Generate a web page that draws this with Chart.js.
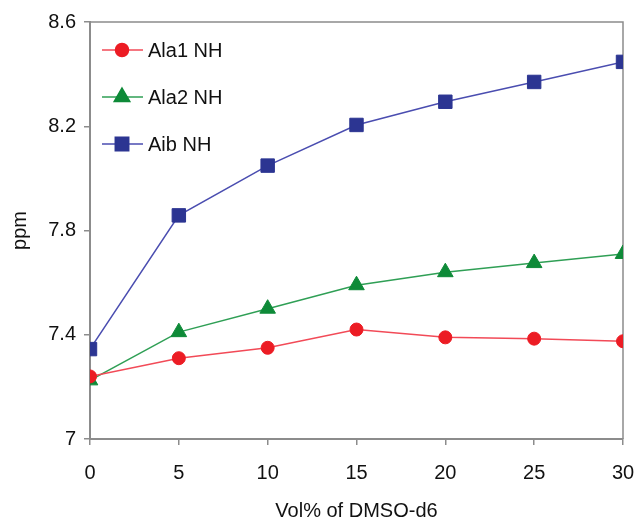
<!DOCTYPE html>
<html>
<head>
<meta charset="utf-8">
<script src="https://cdn.jsdelivr.net/npm/chart.js@4/dist/chart.umd.min.js"></script>
<style>
  html, body { margin: 0; padding: 0; background: #fff; }
  #wrap { width: 637px; height: 521px; }
</style>
</head>
<body>
<div id="wrap"><canvas id="c" width="637" height="521"></canvas></div>
<script>
const volPercent = [0, 5, 10, 15, 20, 25, 30];
const ala1NH = [7.24, 7.31, 7.35, 7.42, 7.39, 7.385, 7.375];
const ala2NH = [7.225, 7.41, 7.50, 7.59, 7.64, 7.675, 7.71];
const aibNH  = [7.345, 7.858, 8.049, 8.205, 8.294, 8.37, 8.447];
const seriesNames = ['Ala1 NH', 'Ala2 NH', 'Aib NH'];
const xTickValues = [0, 5, 10, 15, 20, 25, 30];
const yTickValues = [7, 7.4, 7.8, 8.2, 8.6];
const yTickLabels = ['7', '7.4', '7.8', '8.2', '8.6'];

const toXY = arr => arr.map((v, i) => ({ x: volPercent[i], y: v }));

const FONT = "'Liberation Sans', Arial, sans-serif";
const AXIS_GRAY = '#8c8c8c';

const frameAndLegend = {
  id: 'frameAndLegend',
  beforeDatasetsDraw(chart) {
    const { ctx, chartArea: a } = chart;
    ctx.save();
    ctx.strokeStyle = AXIS_GRAY;
    ctx.lineWidth = 1.5;
    ctx.beginPath();
    ctx.moveTo(a.left, a.top);
    ctx.lineTo(a.right, a.top);
    ctx.lineTo(a.right, a.bottom);
    ctx.stroke();
    ctx.restore();
  },
  afterDatasetsDraw(chart) {
    const { ctx, chartArea: a } = chart;
    ctx.save();
    const x0 = a.left + 12, x1 = a.left + 53, xm = a.left + 32, xt = a.left + 58;
    const rowY = [a.top + 28, a.top + 75, a.top + 122];
    chart.data.datasets.forEach((ds, i) => {
      const y = rowY[i];
      ctx.strokeStyle = ds.borderColor;
      ctx.lineWidth = ds.borderWidth;
      ctx.beginPath();
      ctx.moveTo(x0, y);
      ctx.lineTo(x1, y);
      ctx.stroke();
      ctx.fillStyle = ds.pointBackgroundColor;
      ctx.strokeStyle = ds.pointBorderColor;
      Chart.helpers.drawPoint(ctx, {
        pointStyle: ds.pointStyle,
        radius: ds.pointRadius,
        rotation: 0,
        borderWidth: 1
      }, xm, y);
      ctx.fillStyle = '#111';
      ctx.font = '20px ' + FONT;
      ctx.textBaseline = 'middle';
      ctx.textAlign = 'left';
      ctx.fillText(ds.label, xt, y + 1);
    });
    ctx.restore();
  }
};

new Chart(document.getElementById('c'), {
  type: 'line',
  data: {
    datasets: [
      {
        label: seriesNames[0],
        data: toXY(ala1NH),
        borderColor: '#f24a57',
        borderWidth: 1.5,
        pointStyle: 'circle',
        pointRadius: 6.5,
        pointBackgroundColor: '#ec1c24',
        pointBorderColor: '#ec1c24',
        pointBorderWidth: 1
      },
      {
        label: seriesNames[1],
        data: toXY(ala2NH),
        borderColor: '#2f9f55',
        borderWidth: 1.5,
        pointStyle: 'triangle',
        pointRadius: 9,
        pointBackgroundColor: '#0e8a38',
        pointBorderColor: '#0e8a38',
        pointBorderWidth: 1
      },
      {
        label: seriesNames[2],
        data: toXY(aibNH),
        borderColor: '#4a4db0',
        borderWidth: 1.5,
        pointStyle: 'rect',
        pointRadius: 9.5,
        pointBackgroundColor: '#2c3592',
        pointBorderColor: '#2c3592',
        pointBorderWidth: 1
      }
    ]
  },
  options: {
    responsive: false,
    animation: false,
    layout: { padding: { top: 22, right: 0, left: 0, bottom: 0 } },
    plugins: {
      legend: { display: false },
      tooltip: { enabled: false }
    },
    scales: {
      x: {
        type: 'linear',
        min: 0, max: 30,
        afterBuildTicks: s => { s.ticks = xTickValues.map(v => ({ value: v })); },
        afterFit: s => { s.height = 82; s.paddingRight = 14; },
        grid: { drawOnChartArea: false, drawTicks: true, tickLength: 6, color: AXIS_GRAY, lineWidth: 1.5 },
        border: { color: AXIS_GRAY, width: 2 },
        ticks: { color: '#111', font: { family: FONT, size: 20 }, padding: 16, maxRotation: 0 },
        title: { display: true, text: 'Vol% of DMSO-d6', color: '#111', font: { family: FONT, size: 20, lineHeight: 1.0 }, padding: { top: 0, bottom: 0 } }
      },
      y: {
        type: 'linear',
        min: 7, max: 8.6,
        afterBuildTicks: s => { s.ticks = yTickValues.map(v => ({ value: v })); },
        afterFit: s => { s.width = 90; },
        grid: { drawOnChartArea: false, drawTicks: true, tickLength: 6, color: AXIS_GRAY, lineWidth: 1.5 },
        border: { color: AXIS_GRAY, width: 2 },
        ticks: {
          color: '#111', font: { family: FONT, size: 20 }, padding: 8,
          callback: v => { const i = yTickValues.findIndex(t => Math.abs(t - v) < 1e-9); return i >= 0 ? yTickLabels[i] : ''; }
        },
        title: { display: true, text: 'ppm', color: '#111', font: { family: FONT, size: 20 }, padding: { top: 8, bottom: 0 } }
      }
    }
  },
  plugins: [frameAndLegend]
});
</script>
</body>
</html>
